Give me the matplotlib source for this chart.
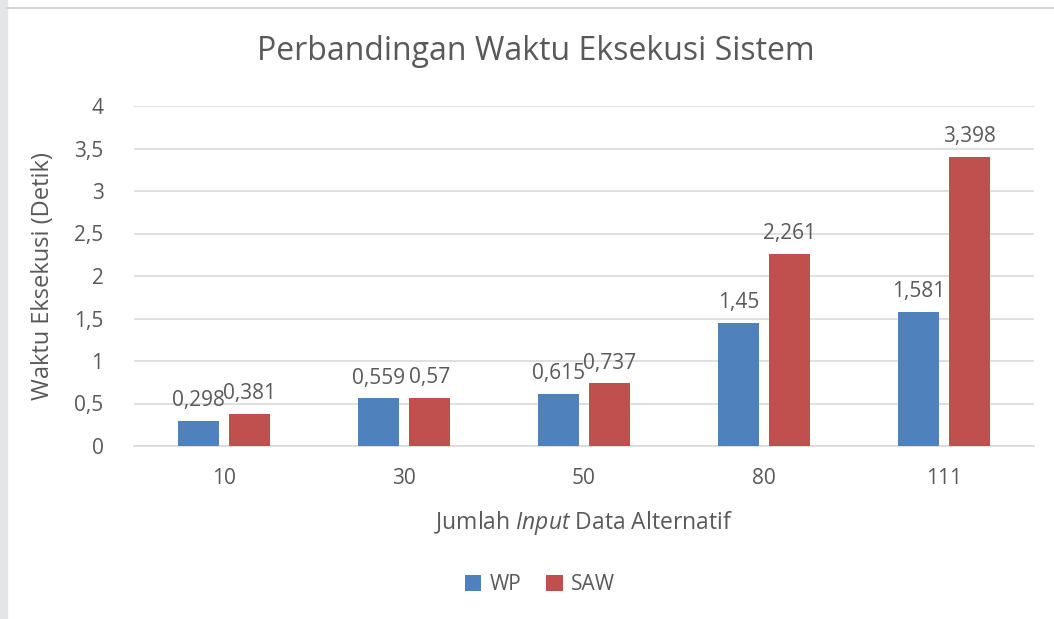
import matplotlib
matplotlib.use("Agg")
import matplotlib.pyplot as plt
from matplotlib.ticker import FuncFormatter, MultipleLocator
from matplotlib.patches import Rectangle
import numpy as np

categories = ["10", "30", "50", "80", "111"]
wp = [0.298, 0.559, 0.615, 1.45, 1.581]
saw = [0.381, 0.57, 0.737, 2.261, 3.398]
series_names = ["WP", "SAW"]

plt.rcParams['font.family'] = ['Open Sans', 'DejaVu Sans']
plt.rcParams['mathtext.fontset'] = 'custom'
plt.rcParams['mathtext.rm'] = 'Open Sans'
plt.rcParams['mathtext.it'] = 'Open Sans:italic'

TXT = '#595959'
BLUE = '#4f81bd'
RED = '#c0504d'
GRID = '#d9d9d9'

W, H = 1054, 619
fig = plt.figure(figsize=(W/100, H/100), dpi=100)
fig.patch.set_facecolor('white')

# screenshot frame: left gray strip and top border line
fig.patches.append(Rectangle((0, 0), 7/W, 1, transform=fig.transFigure, color='#e3e6e6', zorder=0))
fig.lines.append(plt.Line2D([7/W, 1], [1-8/H, 1-8/H], transform=fig.transFigure, color='#d4d4d4', lw=1.5))

ax = fig.add_axes([134/W, 1-446/H, 900/W, 340/H])
x = np.arange(len(categories))
bw = 0.228
off = 0.142
b1 = ax.bar(x - off, wp, bw, color=BLUE, label=series_names[0], zorder=3)
b2 = ax.bar(x + off, saw, bw, color=RED, label=series_names[1], zorder=3)

def fmt(v):
    s = ('%.3f' % v).rstrip('0').rstrip('.')
    return s.replace('.', ',')

for bars, vals in ((b1, wp), (b2, saw)):
    for r, v in zip(bars, vals):
        ax.annotate(fmt(v), (r.get_x() + r.get_width()/2, v), xytext=(0, 7),
                    textcoords='offset points', ha='center', va='bottom',
                    fontsize=15, color=TXT)

ax.set_xlim(-0.5, len(categories) - 0.5)
ax.set_ylim(0, 4)
ax.yaxis.set_major_locator(MultipleLocator(0.5))
ax.yaxis.set_major_formatter(FuncFormatter(lambda v, p: fmt(v)))
ax.set_xticks(x)
ax.set_xticklabels(categories)
ax.tick_params(axis='both', length=0, labelsize=15, labelcolor=TXT)
ax.tick_params(axis='x', pad=16)
ax.tick_params(axis='y', pad=22)
ax.grid(axis='y', color=GRID, lw=1.2, zorder=0)
for s in ['top', 'right', 'left']:
    ax.spines[s].set_visible(False)
ax.spines['bottom'].set_color(GRID)
ax.spines['bottom'].set_linewidth(1.2)

ax.set_ylabel('Waktu Eksekusi (Detik)', fontsize=17, color=TXT, labelpad=14)
ax.set_xlabel(r'Jumlah $\mathit{Input}$ Data Alternatif', fontsize=16.5, color=TXT, labelpad=14)

fig.text(536/W, 1-52/H, 'Perbandingan Waktu Eksekusi Sistem', ha='center', va='center',
         fontsize=23, color=TXT)

leg = fig.legend(handles=[b1, b2], loc='center', bbox_to_anchor=(540/W, 1-585/H), ncol=2,
                 frameon=False, fontsize=15, handlelength=0.8, handleheight=0.8,
                 handletextpad=0.4, columnspacing=1.2)
for t in leg.get_texts():
    t.set_color(TXT)

fig.savefig('out.png', dpi=100, facecolor='white')
